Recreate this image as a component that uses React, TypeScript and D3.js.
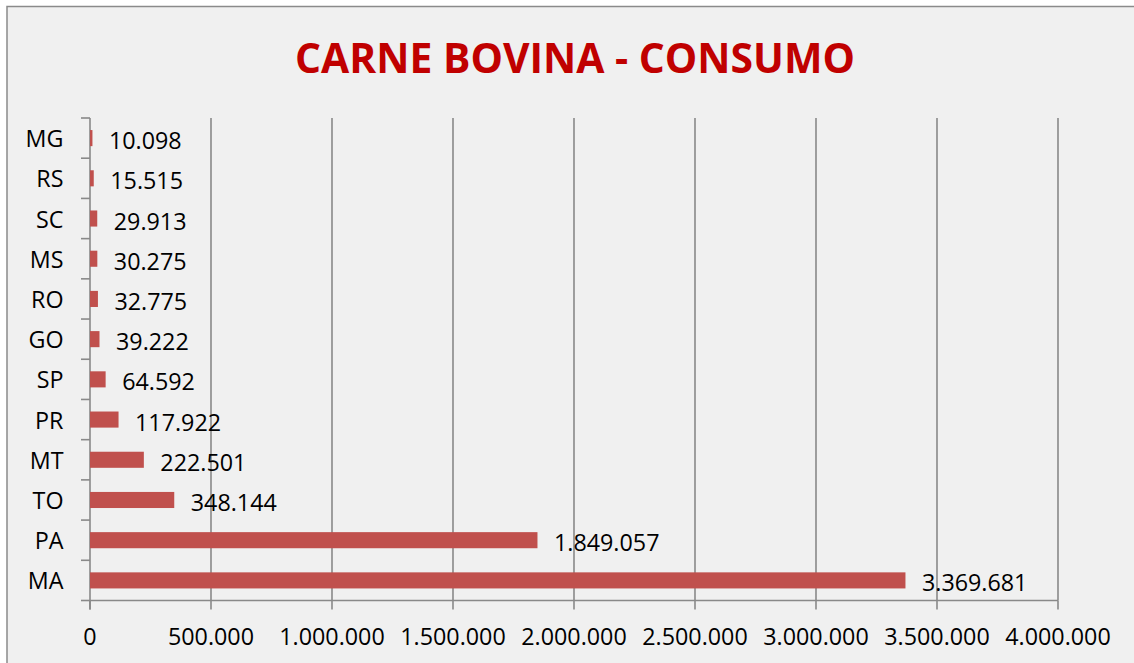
import React from "react";
import * as d3 from "d3";

const categories = ["MG", "RS", "SC", "MS", "RO", "GO", "SP", "PR", "MT", "TO", "PA", "MA"];
const values = [10098, 15515, 29913, 30275, 32775, 39222, 64592, 117922, 222501, 348144, 1849057, 3369681];
const xTicks = [0, 500000, 1000000, 1500000, 2000000, 2500000, 3000000, 3500000, 4000000];
const title = "CARNE BOVINA - CONSUMO";

const W = 1134;
const H = 663;
const FONT = "'Open Sans', 'Noto Sans', sans-serif";
const GRID = "#898989";
const FS = 23.3;

const locale = d3.formatLocale({ decimal: ",", thousands: ".", grouping: [3], currency: ["", ""] });
const fmt = locale.format(",d");

export default function App() {
  const x = d3.scaleLinear().domain([0, 4000000]).range([90, 1058]);
  const y = d3.scaleBand<string>().domain(categories).range([118, 600.5]).paddingInner(0.6).paddingOuter(0.3);
  const top = 118;
  const bottom = 600.5;
  const boundaries = d3.range(categories.length + 1).map((i) => top + i * ((bottom - top) / categories.length));

  return (
    <svg width={W} height={H} style={{ position: "absolute", left: 0, top: 0, display: "block" }} fontFamily={FONT}>
      <rect x={0} y={0} width={W} height={H} fill="#ffffff" />
      <rect x={7} y={6.5} width={W + 20} height={H + 20} fill="#f0f0f0" stroke="#8a8a8a" strokeWidth={1.5} />
      <text x={575} y={72.5} textAnchor="middle" fontSize={42} fontWeight="bold" fill="#c00000" textLength={560} lengthAdjust="spacingAndGlyphs">
        {title}
      </text>
      {xTicks.slice(1).map((t) => (
        <line key={"g" + t} x1={x(t)} x2={x(t)} y1={top} y2={bottom} stroke={GRID} strokeWidth={1.6} />
      ))}
      <line x1={x(0)} x2={x(4000000)} y1={bottom} y2={bottom} stroke={GRID} strokeWidth={1.6} />
      {xTicks.map((t) => (
        <g key={"t" + t}>
          <line x1={x(t)} x2={x(t)} y1={bottom} y2={bottom + 9} stroke={GRID} strokeWidth={1.6} />
          <text x={x(t)} y={636} textAnchor="middle" dominantBaseline="central" fontSize={FS} fill="#000">
            {fmt(t)}
          </text>
        </g>
      ))}
      <line x1={x(0)} x2={x(0)} y1={top} y2={bottom + 9} stroke={GRID} strokeWidth={1.6} />
      {boundaries.map((b, i) => (
        <line key={"yt" + i} x1={81} x2={x(0)} y1={b} y2={b} stroke={GRID} strokeWidth={1.6} />
      ))}
      {categories.map((c, i) => {
        const yc = (y(c) as number) + y.bandwidth() / 2;
        return (
          <g key={c}>
            <rect x={x(0)} y={y(c)} width={x(values[i]) - x(0)} height={y.bandwidth()} fill="#c0504d" />
            <text x={63.5} y={yc} textAnchor="end" dominantBaseline="central" fontSize={FS} fill="#000">
              {c}
            </text>
            <text x={x(values[i]) + 16.5} y={yc + 2} dominantBaseline="central" fontSize={FS} fill="#000">
              {fmt(values[i])}
            </text>
          </g>
        );
      })}
    </svg>
  );
}
